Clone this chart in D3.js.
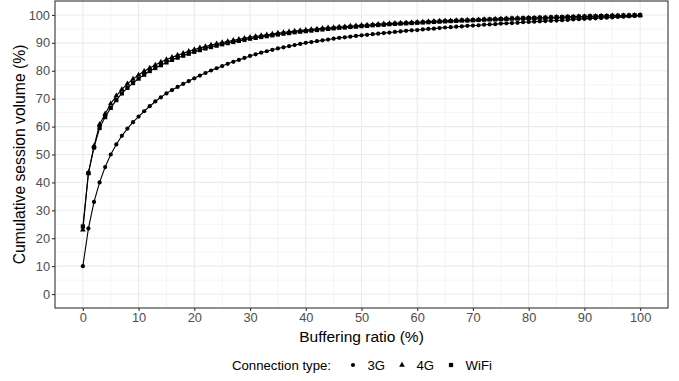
<!DOCTYPE html>
<html>
<head>
<meta charset="utf-8">
<style>
  body { margin: 0; background: #fff; }
  text { font-family: "Liberation Sans", Arial, sans-serif; }
</style>
</head>
<body>
<div id="chart"></div>
<script src="https://d3js.org/d3.v7.min.js"></script>
<script>
// buffering ratio (%) at each point
var ratios = d3.range(0, 101);

var g3 = [10.0, 23.5, 33.0, 40.0, 45.5, 50.0, 53.6, 56.7, 59.3, 61.6,
  63.6, 65.5, 67.3, 69.0, 70.5, 71.9, 73.1, 74.2, 75.3, 76.3,
  77.3, 78.3, 79.2, 80.1, 80.9, 81.7, 82.5, 83.2, 83.9, 84.6,
  85.3, 85.9, 86.5, 87.0, 87.5, 88.0, 88.4, 88.8, 89.2, 89.6,
  90.0, 90.3, 90.6, 90.9, 91.2, 91.5, 91.8, 92.0, 92.2, 92.5,
  92.7, 92.9, 93.1, 93.3, 93.5, 93.7, 93.9, 94.1, 94.3, 94.5,
  94.6, 94.8, 95.0, 95.1, 95.3, 95.5, 95.6, 95.8, 95.9, 96.1,
  96.2, 96.3, 96.5, 96.6, 96.7, 96.9, 97.0, 97.1, 97.2, 97.4,
  97.5, 97.6, 97.7, 97.8, 97.9, 98.0, 98.1, 98.2, 98.4, 98.5,
  98.6, 98.7, 98.8, 98.9, 99.0, 99.1, 99.3, 99.4, 99.5, 99.6, 99.8];

var g4 = [23.0, 43.5, 53.0, 60.8, 64.6, 68.2, 71.0, 73.3, 75.3, 77.0,
  78.5, 79.8, 81.0, 82.1, 83.1, 84.0, 84.8, 85.6, 86.3, 87.0,
  87.6, 88.2, 88.7, 89.2, 89.7, 90.1, 90.5, 90.9, 91.3, 91.6,
  92.0, 92.3, 92.6, 92.9, 93.2, 93.5, 93.7, 94.0, 94.2, 94.4,
  94.6, 94.8, 95.0, 95.2, 95.4, 95.5, 95.7, 95.8, 96.0, 96.1,
  96.3, 96.4, 96.5, 96.7, 96.8, 96.9, 97.0, 97.1, 97.2, 97.3,
  97.4, 97.5, 97.6, 97.7, 97.8, 97.9, 97.9, 98.0, 98.1, 98.2,
  98.2, 98.3, 98.4, 98.4, 98.5, 98.6, 98.6, 98.7, 98.8, 98.8,
  98.9, 98.9, 99.0, 99.0, 99.1, 99.2, 99.2, 99.3, 99.3, 99.4,
  99.4, 99.5, 99.5, 99.6, 99.6, 99.7, 99.7, 99.8, 99.8, 99.9, 99.9];

var wifi = [24.2, 43.3, 52.5, 59.5, 63.4, 66.7, 69.5, 71.9, 73.9, 75.6,
  77.2, 78.6, 79.9, 81.0, 82.0, 83.0, 83.9, 84.7, 85.4, 86.1,
  86.8, 87.4, 88.0, 88.5, 89.0, 89.5, 89.9, 90.3, 90.7, 91.1,
  91.5, 91.8, 92.1, 92.4, 92.7, 93.0, 93.3, 93.5, 93.8, 94.0,
  94.2, 94.4, 94.6, 94.8, 95.0, 95.2, 95.4, 95.5, 95.7, 95.8,
  96.0, 96.1, 96.3, 96.4, 96.5, 96.7, 96.8, 96.9, 97.0, 97.1,
  97.2, 97.3, 97.4, 97.5, 97.6, 97.7, 97.8, 97.9, 98.0, 98.0,
  98.1, 98.2, 98.3, 98.4, 98.4, 98.5, 98.6, 98.7, 98.7, 98.8,
  98.9, 98.9, 99.0, 99.0, 99.1, 99.2, 99.2, 99.3, 99.3, 99.4,
  99.4, 99.5, 99.5, 99.6, 99.6, 99.7, 99.7, 99.8, 99.8, 99.9, 99.9];

var seriesNames = ["3G", "4G", "WiFi"];
var seriesShapes = [d3.symbolCircle, d3.symbolTriangle, d3.symbolSquare];
var seriesSizes = [14, 14, 18];
var xTicks = d3.range(0, 101, 10);
var yTicks = d3.range(0, 101, 10);

var width = 679, height = 381;
var margin = {left: 55, right: 11, top: 1, bottom: 73};

var svg = d3.select("#chart").append("svg")
  .attr("width", width)
  .attr("height", height);

var x = d3.scaleLinear().domain([-5, 105]).range([margin.left, width - margin.right]);
var y = d3.scaleLinear().domain([-5, 105]).range([height - margin.bottom, margin.top]);

// minor grid
var minor = d3.range(5, 100, 10);
svg.selectAll(".gxm").data(minor).enter().append("line")
  .attr("x1", d => x(d)).attr("x2", d => x(d))
  .attr("y1", y(-5)).attr("y2", y(105))
  .attr("stroke", "#ebebeb").attr("stroke-width", 0.55);
svg.selectAll(".gym").data(minor).enter().append("line")
  .attr("y1", d => y(d)).attr("y2", d => y(d))
  .attr("x1", x(-5)).attr("x2", x(105))
  .attr("stroke", "#ebebeb").attr("stroke-width", 0.55);
// major grid
svg.selectAll(".gx").data(xTicks).enter().append("line")
  .attr("x1", d => x(d)).attr("x2", d => x(d))
  .attr("y1", y(-5)).attr("y2", y(105))
  .attr("stroke", "#ebebeb").attr("stroke-width", 1.1);
svg.selectAll(".gy").data(yTicks).enter().append("line")
  .attr("y1", d => y(d)).attr("y2", d => y(d))
  .attr("x1", x(-5)).attr("x2", x(105))
  .attr("stroke", "#ebebeb").attr("stroke-width", 1.1);

// series
var line = d3.line().x((d, i) => x(ratios[i])).y(d => y(d));
[g3, g4, wifi].forEach(function(vals, k) {
  svg.append("path")
    .attr("d", line(vals))
    .attr("fill", "none")
    .attr("stroke", "#000")
    .attr("stroke-width", 1.1);
  var sym = d3.symbol().type(seriesShapes[k]).size(seriesSizes[k]);
  svg.selectAll(".p" + k).data(vals).enter().append("path")
    .attr("d", sym)
    .attr("transform", (d, i) => "translate(" + x(ratios[i]) + "," + y(d) + ")")
    .attr("fill", "#000");
});

// border
svg.append("rect")
  .attr("x", x(-5)).attr("y", y(105))
  .attr("width", x(105) - x(-5)).attr("height", y(-5) - y(105))
  .attr("fill", "none").attr("stroke", "#333").attr("stroke-width", 1.1);

// axes
var xAxis = svg.append("g")
  .attr("transform", "translate(0," + y(-5) + ")")
  .call(d3.axisBottom(x).tickValues(xTicks).tickSize(3).tickPadding(2));
var yAxis = svg.append("g")
  .attr("transform", "translate(" + x(-5) + ",0)")
  .call(d3.axisLeft(y).tickValues(yTicks).tickSize(3).tickPadding(2));
[xAxis, yAxis].forEach(function(a) {
  a.select(".domain").remove();
  a.selectAll(".tick line").attr("stroke", "#333").attr("stroke-width", 1.1);
  a.selectAll(".tick text").attr("fill", "#4d4d4d")
    .style("font-family", "'Liberation Sans', Arial, sans-serif")
    .style("font-size", "12.8px");
});

// titles
svg.append("text")
  .attr("x", (x(-5) + x(105)) / 2).attr("y", 342)
  .attr("text-anchor", "middle")
  .style("font-size", "15.5px")
  .text("Buffering ratio (%)");
svg.append("text")
  .attr("transform", "translate(24.5," + (y(-5) + y(105)) / 2 + ") rotate(-90)")
  .attr("text-anchor", "middle")
  .style("font-size", "15.7px")
  .text("Cumulative session volume (%)");

// legend
var lg = svg.append("g").attr("transform", "translate(0,370)");
lg.append("text").attr("x", 232).attr("y", 0)
  .style("font-size", "13.2px").text("Connection type:");
var legX = [353, 402, 451];
seriesNames.forEach(function(name, k) {
  lg.append("path")
    .attr("d", d3.symbol().type(seriesShapes[k]).size(seriesSizes[k])())
    .attr("transform", "translate(" + legX[k] + ",-5)")
    .attr("fill", "#000");
  lg.append("text").attr("x", legX[k] + 14.5).attr("y", 0)
    .style("font-size", "13.2px").text(name);
});
</script>
</body>
</html>
